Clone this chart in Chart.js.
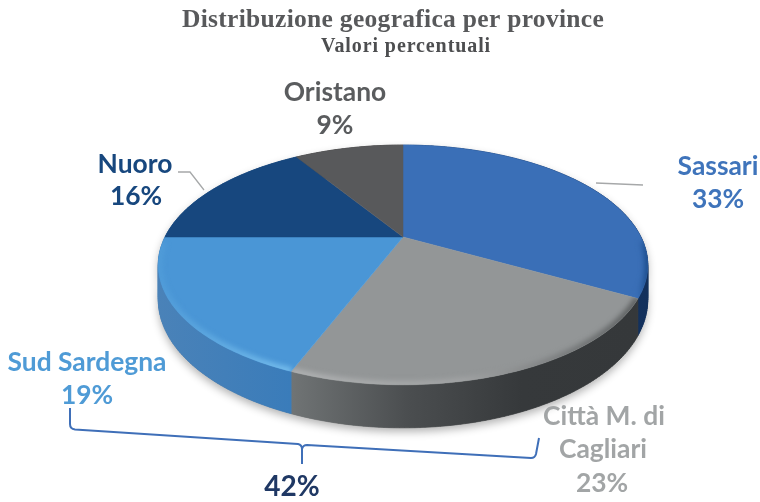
<!DOCTYPE html>
<html lang="it">
<head>
<meta charset="utf-8">
<style>html,body{margin:0;padding:0;background:#fff}canvas{display:block}</style>
<script src="https://cdn.jsdelivr.net/npm/chart.js@4"></script>
</head>
<body>
<canvas id="c" width="760" height="502"></canvas>
<script>
const titleText = 'Distribuzione geografica per province';
const subtitleText = 'Valori percentuali';
const categories = ['Sassari', 'Città M. di Cagliari', 'Sud Sardegna', 'Nuoro', 'Oristano'];
const labelLines = [['Sassari'], ['Città M. di', 'Cagliari'], ['Sud Sardegna'], ['Nuoro'], ['Oristano']];
const values = [33, 23, 19, 16, 9];
const groupText = '42%';

const faceColors = ['#3a6fb7', '#939697', '#4a96d6', '#17477e', '#58595b'];
const labelColors = ['#3f74bb', '#a2a5a6', '#4f9bd6', '#17477e', '#5a5c5e'];
const sideStops = [['#1a467f', '#12305c'], ['#707475', '#4b4e50', '#36393b', '#35383a'], ['#4a82b8', '#3a7cba'], ['#2a5d92', '#17477e'], ['#444', '#444']];
const rimStops = [['#3a6fb7', '#1c4d8c'], ['#aeb0b1', '#a0a2a3', '#5d6061'], ['#4f9bd8', '#74bcec'], ['#17477e', '#17477e'], ['#58595b', '#58595b']];

// label anchors: centre x, centre y of each line
const labelPos = [[[718, 166], [718, 199]], [[604, 416], [603, 449], [602, 483]], [[87, 362], [87, 395]], [[135, 164], [136, 196]], [[335, 92], [335, 125]]];
const view = { cx: 403, cy: 237, a: 238, b: 113.4, k: 0.233, depth: 33 };

function project(angle, r, drop) {
  const u = r * Math.cos(angle), v = -r * Math.sin(angle);
  const w = 1 + view.k * v;
  return [view.cx + view.a * u / w, view.cy - view.b * v / w + (drop ? view.depth / w : 0)];
}
function rimPoints(a0, a1, drop) {
  const n = Math.max(2, Math.ceil((a1 - a0) * 60)), pts = [];
  for (let i = 0; i <= n; i++) pts.push(project(a0 + (a1 - a0) * i / n, 1, drop));
  return pts;
}
function bandPath(ctx, a0, a1) {
  const t = rimPoints(a0, a1, false), b = rimPoints(a0, a1, true);
  ctx.beginPath();
  for (let i = 0; i < t.length - 1; i++) {
    const q = [t[i], t[i + 1], b[i + 1], b[i]];
    let area = 0;
    q.forEach((p, j) => { const r = q[(j + 1) % 4]; area += p[0] * r[1] - r[0] * p[1]; });
    if (area < 0) q.reverse();
    q.forEach((p, j) => j ? ctx.lineTo(p[0], p[1]) : ctx.moveTo(p[0], p[1]));
    ctx.closePath();
  }
}
function hGrad(ctx, pts, stops) {
  const xs = pts.map(p => p[0]);
  const g = ctx.createLinearGradient(Math.min(...xs), 0, Math.max(...xs), 0);
  stops.forEach((c, i) => g.addColorStop(i / (stops.length - 1), c));
  return g;
}
function line(ctx, pts) {
  ctx.beginPath();
  pts.forEach((p, j) => j ? ctx.lineTo(p[0], p[1]) : ctx.moveTo(p[0], p[1]));
}

const pie3d = {
  id: 'pie3d',
  beforeDatasetsDraw(chart) {
    const ctx = chart.ctx, arcs = chart.getDatasetMeta(0).data;
    const first = arcs[0].startAngle, last = arcs[arcs.length - 1].endAngle;
    // soft ground shadow
    ctx.save();
    ctx.shadowColor = 'rgba(0,0,0,0.3)'; ctx.shadowBlur = 9; ctx.shadowOffsetY = 4;
    ctx.fillStyle = '#777';
    bandPath(ctx, first, last); ctx.fill();
    ctx.restore();
    // side walls
    arcs.forEach((arc, i) => {
      const pts = rimPoints(arc.startAngle, arc.endAngle, false);
      const g = hGrad(ctx, pts, sideStops[i]);
      ctx.fillStyle = g; ctx.strokeStyle = g; ctx.lineWidth = 0.6;
      bandPath(ctx, arc.startAngle, arc.endAngle); ctx.fill(); ctx.stroke();
    });
    // top faces
    arcs.forEach((arc, i) => {
      ctx.beginPath(); ctx.moveTo(view.cx, view.cy);
      rimPoints(arc.startAngle, arc.endAngle, false).forEach(p => ctx.lineTo(p[0], p[1]));
      ctx.closePath();
      ctx.fillStyle = faceColors[i]; ctx.strokeStyle = faceColors[i]; ctx.lineWidth = 0.5;
      ctx.fill(); ctx.stroke();
    });
    // soft bevel along the near half of the rim only
    arcs.forEach((arc, i) => {
      const pts = rimPoints(arc.startAngle, arc.endAngle, false);
      const near = rimPoints(arc.startAngle, arc.endAngle, false)
        .filter((p, j, all) => p[1] > view.cy + 4);
      if (near.length < 2) return;
      ctx.save();
      ctx.beginPath(); ctx.moveTo(view.cx, view.cy);
      pts.forEach(p => ctx.lineTo(p[0], p[1]));
      ctx.closePath(); ctx.clip();
      ctx.filter = 'blur(2.5px)';
      line(ctx, near);
      ctx.strokeStyle = hGrad(ctx, near, rimStops[i]); ctx.lineWidth = 8; ctx.stroke();
      ctx.restore();
    });
    return false;
  },
  afterDraw(chart) {
    const ctx = chart.ctx;
    ctx.save();
    ctx.textAlign = 'center'; ctx.textBaseline = 'middle';
    ctx.filter = 'blur(0.45px)';
    ctx.letterSpacing = '0.3px';
    ctx.fillStyle = '#58595b'; ctx.font = 'bold 25.5px "Liberation Serif"';
    ctx.fillText(titleText, 393, 20);
    ctx.letterSpacing = '0.9px';
    ctx.fillStyle = '#4d4e50'; ctx.font = 'bold 20px "Liberation Serif"';
    ctx.fillText(subtitleText, 406, 47);
    ctx.letterSpacing = '0px';

    // leader lines
    ctx.strokeStyle = '#a6a8a9'; ctx.lineWidth = 1.3;
    line(ctx, [[596, 183], [643, 185]]); ctx.stroke();
    line(ctx, [[178, 172], [190, 172], [204, 190]]); ctx.stroke();

    // bracket
    ctx.strokeStyle = '#3f6fb8'; ctx.lineWidth = 2; ctx.lineJoin = 'round';
    ctx.beginPath();
    ctx.moveTo(70, 408); ctx.lineTo(70, 424); ctx.quadraticCurveTo(70, 429, 75, 429.5);
    ctx.lineTo(298, 444); ctx.quadraticCurveTo(302, 445, 302, 449); ctx.lineTo(302, 464);
    ctx.moveTo(302, 449); ctx.quadraticCurveTo(303, 445, 307, 445);
    ctx.lineTo(531, 458); ctx.quadraticCurveTo(535, 458, 536, 454); ctx.lineTo(539, 438);
    ctx.stroke();

    // labels
    ctx.font = 'bold 26.4px Lato';
    labelLines.forEach((lines, i) => {
      ctx.fillStyle = labelColors[i];
      [...lines, values[i] + '%'].forEach((t, j) => ctx.fillText(t, labelPos[i][j][0], labelPos[i][j][1]));
    });
    ctx.fillStyle = '#1f3864'; ctx.font = 'bold 28px Lato';
    ctx.fillText(groupText, 292, 487);
    ctx.restore();
  }
};

new Chart(document.getElementById('c'), {
  type: 'pie',
  data: { labels: categories, datasets: [{ data: values, backgroundColor: faceColors, borderWidth: 0 }] },
  options: {
    responsive: false,
    animation: false,
    plugins: { legend: { display: false }, tooltip: { enabled: false } }
  },
  plugins: [pie3d]
});
</script>
</body>
</html>
